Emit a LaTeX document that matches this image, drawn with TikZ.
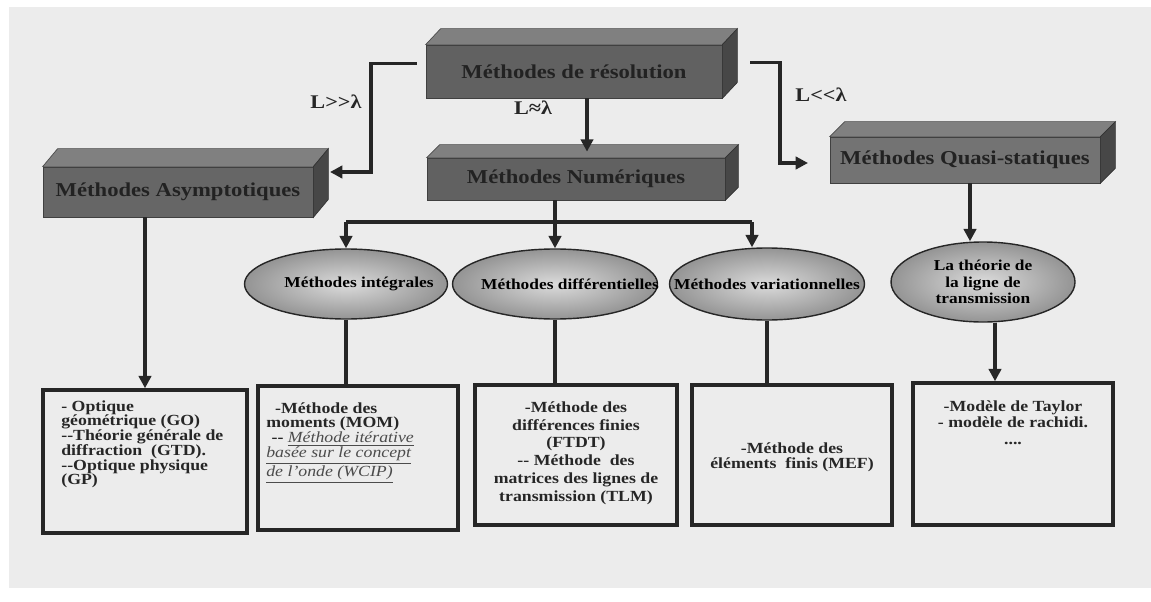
\documentclass[tikz,border=0pt]{standalone}
\usepackage{fontspec}
\setmainfont{Liberation Serif}[FakeStretch=1.15]
\usepackage{tikz}
\usetikzlibrary{calc, positioning, arrows.meta, shapes.geometric}

\definecolor{papier}{RGB}{236,236,236}
\definecolor{Gristexte}{RGB}{34,34,34}

\newlength\upx
\setlength\upx{0.02cm}

% faces du dessus et de droite d'une barre en relief
\newcommand{\prisme}[3]{%
  \fill[black!50, draw=black!70, line width=0.4pt]
    (#1.north west) -- ++(#2,#3) -- ($(#1.north east)+(#2,#3)$)
    -- (#1.north east) -- cycle;
  \fill[black!72, draw=black!80, line width=0.4pt]
    (#1.north east) -- ++(#2,#3) -- ($(#1.south east)+(#2,#3)$)
    -- (#1.south east) -- cycle;
}
% texte d'une ellipse, sans effet sur sa taille
\newcommand{\dansbulle}[2]{\makebox[0pt]{\hspace*{#1\upx}#2}}

\begin{document}
\begin{tikzpicture}[x=0.02cm, y=-0.02cm,
  barre/.style ={rectangle, draw=black!75, fill=black!62, inner sep=0pt,
                 font=\fontsize{11.2}{13}\selectfont\bfseries, text=Gristexte},
  bulle/.style ={ellipse, draw=black!85, thick, inner sep=0pt,
                 inner color=black!14, outer color=black!42,
                 font=\fontsize{8.6}{9.4}\selectfont\bfseries, align=center},
  cadre/.style ={rectangle, draw=black!85, line width=2pt,
                 minimum width=200\upx, minimum height=140\upx},
  texte/.style ={font=\fontsize{8.8}{8.4}\selectfont\bfseries,
                 text=black!85, inner sep=0pt},
  etiq/.style  ={font=\fontsize{11}{13}\selectfont\bfseries, text=black!85},
  fleche/.style={-{Triangle[length=7pt, width=7pt]}, line width=1.8pt, draw=black!85},
  trait/.style ={line width=1.8pt, draw=black!85},
]

%% Fond
\useasboundingbox (0,0) rectangle (1151,601);
\fill[white]  (0,0) rectangle (1151,601);
\fill[papier] (9,7) rectangle (1151,588);

%% Barres en relief
\node[barre, minimum width=296\upx, minimum height=53\upx]
      (res) at (574,71.5) {Méthodes de résolution};
\prisme{res}{15}{-16}
\node[barre, fill=black!60, minimum width=270\upx, minimum height=50\upx]
      (asy) at (178,192) {Méthodes Asymptotiques};
\prisme{asy}{15}{-18}
\node[barre, minimum width=298\upx, minimum height=42\upx]
      (num) at (576,179) {Méthodes Numériques};
\prisme{num}{13}{-13}
\node[barre, fill=black!55, minimum width=270\upx, minimum height=46\upx]
      (qua) at (965,160) {Méthodes Quasi-statiques};
\prisme{qua}{15}{-15}

%% Ellipses
\node[bulle, minimum width=203\upx, minimum height=70\upx]
      (int) at (346,284) {\dansbulle{26}{Méthodes intégrales}};
\node[bulle, minimum width=205\upx, minimum height=70\upx]
      (dif) at (555,284) {\dansbulle{30}{Méthodes différentielles}};
\node[bulle, minimum width=195\upx, minimum height=72\upx]
      (var) at (767,284) {\dansbulle{0}{Méthodes variationnelles}};
\node[bulle, minimum width=184\upx, minimum height=80\upx]
      (lig) at (983,282) {La théorie de\\la ligne de\\transmission};

%% Cadres du bas
\node[cadre, minimum width=204\upx, minimum height=143\upx] (go)  at (145,461.5) {};
\node[cadre, minimum height=144\upx]                        (mom) at (358,458) {};
\node[cadre, minimum width=202\upx]                         (dfi) at (576,455) {};
\node[cadre]                                                (mef) at (792,455) {};
\node[cadre, minimum height=142\upx]                        (tay) at (1013,454) {};

\node[texte, anchor=north west, align=left] (goT) at (61,400)
  {- Optique\\géométrique (GO)\\-{}-Théorie générale de\\diffraction\ \ (GTD).\\
   -{}-Optique physique\\(GP)};
\node[texte, anchor=north west, align=left] (momT) at (266,402)
  {\hspace*{5pt}-Méthode des\\moments (MOM)\\
   \hspace*{3pt}-{}- {\mdseries\itshape\color{black!70}\underline{Méthode itérative}}\\
   {\mdseries\itshape\color{black!70}\underline{basée sur le concept}}\\
   {\mdseries\itshape\color{black!70}\underline{de l'onde (WCIP)}}};
\node[texte, anchor=north, align=center, font=\fontsize{8.8}{10.2}\selectfont\bfseries]
      (dfiT) at (576,401)
  {-Méthode des\\différences finies\\(FTDT)\\-{}- Méthode\ \ des\\
   matrices des lignes de\\transmission (TLM)};
\node[texte, align=center, font=\fontsize{8.8}{8.8}\selectfont\bfseries]
      (mefT) at (792,457) {-Méthode des\\éléments\ \ finis (MEF)};
\node[texte, anchor=north, align=center, font=\fontsize{8.8}{9.5}\selectfont\bfseries]
      (tayT) at (1013,400) {-Modèle de Taylor\\- modèle de rachidi.\\....};

%% Etiquettes
\node[etiq] (lgrand) at (336,102) {L>{}>λ};
\node[etiq] (lenv)   at (533,108) {L≈λ};
\node[etiq] (lpetit) at (821,95)  {L<{}<λ};

%% Liaisons
\coordinate (coudeG)  at (371,172);
\coordinate (pointeG) at (330,172);
\coordinate (coudeD)  at (780,163);
\coordinate (pointeD) at (808,163);
\coordinate (brG) at (346,222);
\coordinate (brD) at (752,222);

\draw[fleche] ([shift={(-9,-8)}]res.west) -| (coudeG) -- (pointeG);
\draw[fleche] ([shift={(28,-9)}]res.east) -| (coudeD) -- (pointeD);
\draw[fleche] ([xshift=13\upx]res.south) -- ([shift={(11,-6)}]num.north);

\draw[trait]  (brG) -- (brD);
\draw[fleche] (brG) -- (int.north);
\draw[fleche] (dif.north |- num.south) -- (dif.north);
\draw[fleche] (brD) -- (brD |- var.north);

\draw[fleche] (go.north |- asy.south) -- (go.north);
\draw[fleche] ([xshift=5\upx]qua.south) -- ([xshift=-13\upx]lig.north);
\draw[fleche] ([xshift=12\upx]lig.south) -- ([xshift=-18\upx]tay.north);

\draw[trait] (int.south) -- (int.south |- mom.north);
\draw[trait] (dif.south) -- (dif.south |- dfi.north);
\draw[trait] (var.south) -- (var.south |- mef.north);

\end{tikzpicture}
\end{document}
